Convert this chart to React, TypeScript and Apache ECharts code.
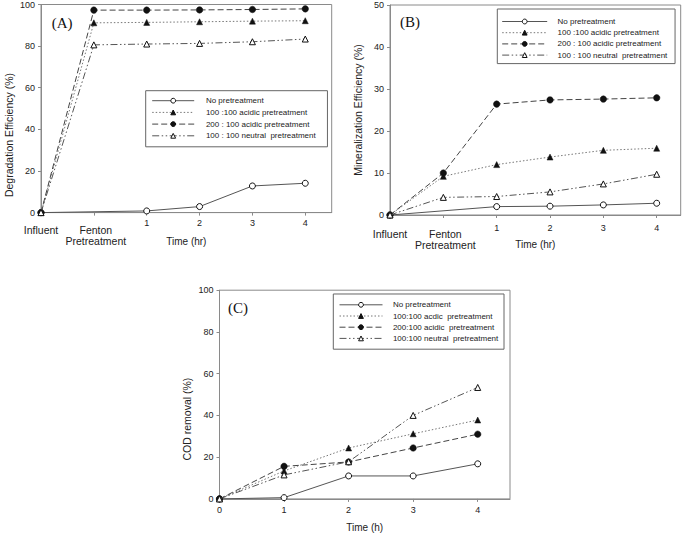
import { useEffect, useRef } from 'react';
import * as echarts from 'echarts';

// x positions: -1 = Influent, 0 = Fenton Pretreatment, 1..4 = hours
const stageX = [-1, 0, 1, 2, 3, 4];
const noPretreatX = [-1, 1, 2, 3, 4];
const codX = [0, 1, 2, 3, 4];

// (A) Degradation efficiency (%)
const degNo = [0, 0.8, 2.9, 12.8, 14.1];
const deg100Acid = [0, 91.2, 91.4, 91.7, 92.0, 92.2];
const deg200Acid = [0, 97.3, 97.3, 97.4, 97.6, 97.9];
const deg100Neutral = [0, 80.6, 81.0, 81.3, 82.1, 83.4];

// (B) Mineralization efficiency (%)
const minNo = [0, 2.0, 2.1, 2.4, 2.8];
const min100Acid = [0, 9.2, 12.0, 13.8, 15.4, 15.9];
const min200Acid = [0, 10.0, 26.4, 27.4, 27.6, 27.9];
const min100Neutral = [0, 4.2, 4.4, 5.5, 7.4, 9.7];

// (C) COD removal (%)
const codNo = [0, 0.6, 11.0, 11.0, 16.8];
const cod100Acid = [0, 13.4, 24.4, 31.2, 37.8];
const cod200Acid = [0, 15.6, 17.7, 24.4, 31.0];
const cod100Neutral = [0, 11.5, 17.8, 40.0, 53.4];

const namesAB = [
  'No pretreatment',
  '100 :100 acidic pretreatment',
  '200 : 100 acidic pretreatment',
  '100 : 100 neutral  pretreatment',
];
const namesC = [
  'No pretreatment',
  '100:100 acdic  pretreatment',
  '200:100 acidic  pretreatment',
  '100:100 neutral  pretreatment',
];
const yTitles = ['Degradation Efficiency (%)', 'Mineralization Efficiency (%)', 'COD removal (%)'];
const xTitles = ['Time (hr)', 'Time (hr)', 'Time (h)'];
const panelTags = ['(A)', '(B)', '(C)'];
const stageLabels = ['Influent', 'Fenton', 'Pretreatment'];

const FONT = '"Liberation Sans", Arial, sans-serif';
const AXIS = '#8a8a8a';
const TXT = '#222';

const styles = [
  {
    symbol: 'circle', symbolSize: 6,
    itemStyle: { color: '#fff', borderColor: '#111', borderWidth: 1 },
    lineStyle: { color: '#555', width: 1, type: 'solid' },
  },
  {
    symbol: 'triangle', symbolSize: 6,
    itemStyle: { color: '#111', borderColor: '#111', borderWidth: 0.5 },
    lineStyle: { color: '#777', width: 1, type: [1.5, 2] },
  },
  {
    symbol: 'circle', symbolSize: 6.5,
    itemStyle: { color: '#111', borderColor: '#111', borderWidth: 0.5 },
    lineStyle: { color: '#444', width: 1, type: [6, 3] },
  },
  {
    symbol: 'triangle', symbolSize: 6,
    itemStyle: { color: '#fff', borderColor: '#111', borderWidth: 1 },
    lineStyle: { color: '#555', width: 1, type: [7, 2.5, 1.5, 2.5, 1.5, 2.5] },
  },
];

function mk(name: string, xs: number[], ys: number[], k: number, g: number) {
  return {
    type: 'line',
    name,
    xAxisIndex: g,
    yAxisIndex: g,
    data: xs.map((x, i) => [x, ys[i]]),
    symbol: styles[k].symbol,
    symbolSize: styles[k].symbolSize,
    itemStyle: styles[k].itemStyle,
    lineStyle: styles[k].lineStyle,
    emphasis: { disabled: true },
    z: 2 + k,
  };
}

function stageFormatter(v: number | string) {
  const n = Number(v);
  if (n === -1) return '{c0|' + stageLabels[0] + '}';
  if (n === 0) return '{c1|' + stageLabels[1] + '}\n{c2|' + stageLabels[2] + '}';
  return '{n|' + n + '}';
}

const stageRich = {
  n: { fontSize: 9, lineHeight: 9, color: TXT, fontFamily: FONT },
  c0: { fontSize: 10.5, lineHeight: 16.5, verticalAlign: 'bottom', color: TXT, fontFamily: FONT },
  c1: { fontSize: 10.5, lineHeight: 16.5, verticalAlign: 'bottom', color: TXT, fontFamily: FONT, padding: [0, 0, 0, 4] },
  c2: { fontSize: 10.5, lineHeight: 11, color: TXT, fontFamily: FONT, padding: [0, 0, 0, 4] },
};

function xAxis(g: number, min: number, max: number, margin: number, stage: boolean) {
  return {
    type: 'value', gridIndex: g, min, max, interval: 1,
    axisLine: { show: true, onZero: false, lineStyle: { color: AXIS, width: 1 } },
    axisTick: { show: true, length: 3, lineStyle: { color: AXIS } },
    splitLine: { show: false },
    axisLabel: stage
      ? { margin, formatter: stageFormatter, rich: stageRich, showMinLabel: true, showMaxLabel: false, hideOverlap: false }
      : { margin, fontSize: 9, color: TXT, showMaxLabel: false },
    name: xTitles[g], nameLocation: 'middle', nameGap: 24, nameMoveOverlap: false,
    nameTextStyle: { fontSize: 10, color: TXT, fontFamily: FONT },
  };
}

function yAxis(g: number, max: number, interval: number, shift: number) {
  return {
    type: 'value', gridIndex: g, min: 0, max, interval,
    axisLine: { show: true, onZero: false, lineStyle: { color: AXIS, width: 1 } },
    axisTick: { show: true, length: 3, lineStyle: { color: AXIS } },
    splitLine: { show: false },
    axisLabel: { margin: 6, fontSize: 9, color: TXT },
    name: yTitles[g], nameLocation: 'middle', nameGap: 27, nameMoveOverlap: false,
    nameTextStyle: { fontSize: 10.5, color: TXT, fontFamily: FONT, padding: [0, shift, 0, 0] },
  };
}

function legend(names: string[], left: number, top: number, iw: number, gap: number, pad: number[], tpad: number) {
  return {
    orient: 'vertical', left, top, itemWidth: iw, itemHeight: 6, itemGap: gap + 2,
    padding: pad, borderColor: '#666', borderWidth: 1, selectedMode: false,
    lineStyle: { width: 1 },
    itemStyle: { borderWidth: 1 },
    textStyle: { fontSize: 8, lineHeight: 6, color: TXT, fontFamily: FONT, padding: [0, 0, 0, tpad] },
    data: names,
  };
}

function tag(i: number, left: number, top: number) {
  return {
    text: panelTags[i], left, top, padding: 0,
    textStyle: { fontFamily: '"Liberation Serif", "Times New Roman", serif', fontSize: 15, fontWeight: 'normal', color: '#111' },
  };
}

export default function App() {
  const ref = useRef<HTMLDivElement>(null);
  useEffect(() => {
    if (!ref.current) return;
    const chart = echarts.init(ref.current, undefined, { renderer: 'svg' });
    chart.setOption({
      animation: false,
      backgroundColor: '#fff',
      textStyle: { fontFamily: FONT },
      title: [tag(0, 51.7, 15.8), tag(1, 400, 14.5), tag(2, 228, 300.8)],
      grid: [
        { left: 41, top: 4.3, width: 290.7, height: 208.3, show: true, borderColor: AXIS, borderWidth: 1 },
        { left: 390, top: 5, width: 290.7, height: 210, show: true, borderColor: AXIS, borderWidth: 1 },
        { left: 219.5, top: 290.2, width: 290.5, height: 208.7, show: true, borderColor: AXIS, borderWidth: 1 },
      ],
      xAxis: [xAxis(0, -1, 4.5, 6, true), xAxis(1, -1, 4.45, 8, true), xAxis(2, 0, 4.5, 7, false)],
      yAxis: [yAxis(0, 100, 20, 53), yAxis(1, 50, 10, 0), yAxis(2, 100, 20, 49)],
      legend: [
        legend(namesAB, 145.7, 90.7, 42, 1.7, [6, 11.7, 7, 6], 6.7),
        legend(namesAB, 497.3, 9, 45, 1.2, [8.5, 7.7, 4.5, 4.4], 5.3),
        legend(namesC, 333.3, 294, 43, 1.2, [6.8, 5.7, 6.8, 5.7], 5.4),
      ],
      series: [
        mk(namesAB[0], noPretreatX, degNo, 0, 0),
        mk(namesAB[1], stageX, deg100Acid, 1, 0),
        mk(namesAB[2], stageX, deg200Acid, 2, 0),
        mk(namesAB[3], stageX, deg100Neutral, 3, 0),
        mk(namesAB[0], noPretreatX, minNo, 0, 1),
        mk(namesAB[1], stageX, min100Acid, 1, 1),
        mk(namesAB[2], stageX, min200Acid, 2, 1),
        mk(namesAB[3], stageX, min100Neutral, 3, 1),
        mk(namesC[0], codX, codNo, 0, 2),
        mk(namesC[1], codX, cod100Acid, 1, 2),
        mk(namesC[2], codX, cod200Acid, 2, 2),
        mk(namesC[3], codX, cod100Neutral, 3, 2),
      ],
    });
    return () => chart.dispose();
  }, []);
  return (
    <div
      ref={ref}
      style={{ position: 'absolute', left: 0, top: 0, width: 685, height: 534, background: '#fff' }}
    />
  );
}
